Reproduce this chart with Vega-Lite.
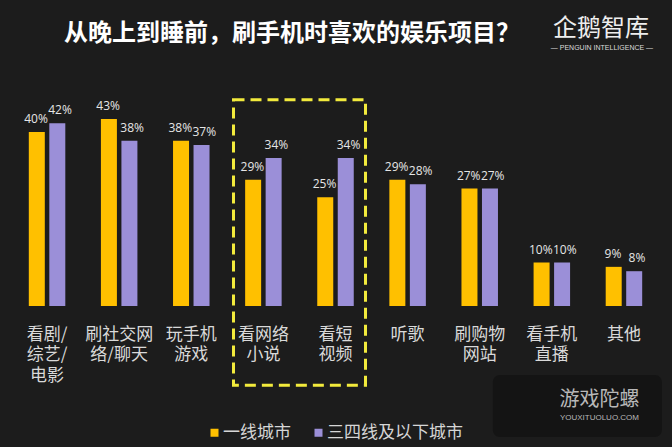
{
  "$schema": "https://vega.github.io/schema/vega-lite/v6.json",
  "width": 649,
  "height": 217.5,
  "autosize": {"type": "none"},
  "padding": {"left": 11, "top": 88.5, "right": 12, "bottom": 141},
  "background": "#1c1c1c",
  "config": {
    "view": {"stroke": null},
    "font": "Noto Sans CJK SC",
    "axisX": {
      "domain": false,
      "ticks": false,
      "labelAngle": 0,
      "labelColor": "#d9d9d9",
      "labelFontSize": 17,
      "labelLineHeight": 20.5,
      "labelPadding": 20,
      "labelOverlap": false,
      "labelFont": "Noto Sans CJK SC"
    }
  },
  "title": {
    "text": "从晚上到睡前，刷手机时喜欢的娱乐项目？",
    "anchor": "start",
    "dx": 53,
    "fontSize": 24,
    "fontWeight": "bold",
    "color": "#ffffff",
    "font": "Noto Sans CJK SC",
    "baseline": "alphabetic",
    "offset": -48
  },
  "data": {
    "values": [
      {"item": "看剧/\n综艺/\n电影", "city": "一线城市", "share": 0.40},
      {"item": "看剧/\n综艺/\n电影", "city": "三四线及以下城市", "share": 0.42},
      {"item": "刷社交网\n络/聊天", "city": "一线城市", "share": 0.43},
      {"item": "刷社交网\n络/聊天", "city": "三四线及以下城市", "share": 0.38},
      {"item": "玩手机\n游戏", "city": "一线城市", "share": 0.38},
      {"item": "玩手机\n游戏", "city": "三四线及以下城市", "share": 0.37},
      {"item": "看网络\n小说", "city": "一线城市", "share": 0.29},
      {"item": "看网络\n小说", "city": "三四线及以下城市", "share": 0.34},
      {"item": "看短\n视频", "city": "一线城市", "share": 0.25},
      {"item": "看短\n视频", "city": "三四线及以下城市", "share": 0.34},
      {"item": "听歌", "city": "一线城市", "share": 0.29},
      {"item": "听歌", "city": "三四线及以下城市", "share": 0.28},
      {"item": "刷购物\n网站", "city": "一线城市", "share": 0.27},
      {"item": "刷购物\n网站", "city": "三四线及以下城市", "share": 0.27},
      {"item": "看手机\n直播", "city": "一线城市", "share": 0.10},
      {"item": "看手机\n直播", "city": "三四线及以下城市", "share": 0.10},
      {"item": "其他", "city": "一线城市", "share": 0.09},
      {"item": "其他", "city": "三四线及以下城市", "share": 0.08}
    ]
  },
  "layer": [
    {
      "data": {"values": [{"item": "看手机\n直播", "box": "watermark"}]},
      "mark": {"type": "bar", "width": 169, "xOffset": 25.5, "fill": "#141414", "cornerRadius": 7},
      "encoding": {
        "x": {"field": "item", "type": "nominal", "sort": null, "axis": {"title": null, "labelExpr": "split(datum.label, '\\n')"}},
        "y": {"datum": -0.1586, "type": "quantitative", "axis": null},
        "y2": {"datum": -0.3011}
      }
    },
    {
      "transform": [{"filter": "datum.city === '一线城市'"}],
      "mark": {"type": "bar", "width": 16, "xOffset": -10.25},
      "encoding": {
        "x": {
          "field": "item",
          "type": "nominal",
          "sort": null,
          "scale": {
            "domain": ["看剧/\n综艺/\n电影", "刷社交网\n络/聊天", "玩手机\n游戏", "看网络\n小说", "看短\n视频", "听歌", "刷购物\n网站", "看手机\n直播", "其他"],
            "paddingInner": 0.487,
            "paddingOuter": 0.2435
          },
          "axis": {"title": null, "labelExpr": "split(datum.label, '\\n')"}
        },
        "y": {"field": "share", "type": "quantitative", "scale": {"domain": [0, 0.5], "nice": false}, "axis": null},
        "color": {
          "field": "city",
          "type": "nominal",
          "scale": {"domain": ["一线城市", "三四线及以下城市"], "range": ["#ffc000", "#9b8fd8"]},
          "legend": {
            "title": null,
            "orient": "none",
            "direction": "horizontal",
            "legendX": 195,
            "legendY": 335.5,
            "symbolType": "square",
            "symbolSize": 64,
            "symbolStrokeWidth": 0,
            "labelFontSize": 17,
            "labelColor": "#d6d6d6",
            "labelFont": "Noto Sans CJK SC",
            "labelOffset": 0,
            "columnPadding": 19,
            "padding": 0
          }
        }
      }
    },
    {
      "transform": [{"filter": "datum.city === '三四线及以下城市'"}],
      "mark": {"type": "bar", "width": 16, "xOffset": 10.25},
      "encoding": {
        "x": {"field": "item", "type": "nominal", "sort": null, "axis": {"title": null, "labelExpr": "split(datum.label, '\\n')"}},
        "y": {"field": "share", "type": "quantitative", "axis": null},
        "color": {"field": "city", "type": "nominal"}
      }
    },
    {
      "transform": [{"filter": "datum.city === '一线城市'"}],
      "mark": {"type": "text", "dy": -9, "xOffset": -11, "baseline": "alphabetic", "fontSize": 12, "font": "Open Sans", "color": "#e6e6e6"},
      "encoding": {
        "x": {"field": "item", "type": "nominal", "sort": null, "axis": {"title": null, "labelExpr": "split(datum.label, '\\n')"}},
        "y": {"field": "share", "type": "quantitative", "axis": null},
        "text": {"field": "share", "type": "quantitative", "format": ".0%"}
      }
    },
    {
      "transform": [{"filter": "datum.city === '三四线及以下城市'"}],
      "mark": {"type": "text", "dy": -9, "xOffset": 13, "baseline": "alphabetic", "fontSize": 12, "font": "Open Sans", "color": "#e6e6e6"},
      "encoding": {
        "x": {"field": "item", "type": "nominal", "sort": null, "axis": {"title": null, "labelExpr": "split(datum.label, '\\n')"}},
        "y": {"field": "share", "type": "quantitative", "axis": null},
        "text": {"field": "share", "type": "quantitative", "format": ".0%"}
      }
    },
    {
      "data": {"values": [{"item": "看短\n视频", "box": "highlight"}]},
      "mark": {"type": "bar", "width": 132, "xOffset": -36, "fill": "transparent", "stroke": "#f2ea3c", "strokeWidth": 3, "strokeDash": [11, 6]},
      "encoding": {
        "x": {"field": "item", "type": "nominal", "sort": null, "axis": {"title": null, "labelExpr": "split(datum.label, '\\n')"}},
        "y": {"datum": 0.474, "type": "quantitative", "axis": null},
        "y2": {"datum": -0.182}
      }
    },
    {
      "data": {"values": [{"item": "其他", "label": "企鹅智库"}]},
      "mark": {"type": "text", "fontSize": 24, "color": "#eeeeee", "baseline": "alphabetic", "xOffset": -23, "font": "Noto Sans CJK SC"},
      "encoding": {
        "x": {"field": "item", "type": "nominal", "sort": null, "axis": {"title": null, "labelExpr": "split(datum.label, '\\n')"}},
        "y": {"datum": 0.6207, "type": "quantitative", "axis": null},
        "text": {"field": "label", "type": "nominal"}
      }
    },
    {
      "data": {"values": [{"item": "其他", "label": "— PENGUIN  INTELLIGENCE —"}]},
      "mark": {"type": "text", "fontSize": 7, "color": "#dddddd", "baseline": "alphabetic", "xOffset": -22, "font": "Liberation Sans"},
      "encoding": {
        "x": {"field": "item", "type": "nominal", "sort": null, "axis": {"title": null, "labelExpr": "split(datum.label, '\\n')"}},
        "y": {"datum": 0.5874, "type": "quantitative", "axis": null},
        "text": {"field": "label", "type": "nominal"}
      }
    },
    {
      "data": {"values": [{"item": "其他", "label": "游戏陀螺"}]},
      "mark": {"type": "text", "fontSize": 20, "color": "#b8b8b8", "baseline": "alphabetic", "xOffset": -24.5, "font": "Noto Sans CJK SC"},
      "encoding": {
        "x": {"field": "item", "type": "nominal", "sort": null, "axis": {"title": null, "labelExpr": "split(datum.label, '\\n')"}},
        "y": {"datum": -0.2299, "type": "quantitative", "axis": null},
        "text": {"field": "label", "type": "nominal"}
      }
    },
    {
      "data": {"values": [{"item": "其他", "label": "YOUXITUOLUO.COM"}]},
      "mark": {"type": "text", "fontSize": 8, "color": "#b8b8b8", "baseline": "alphabetic", "xOffset": -24.5, "font": "Liberation Sans"},
      "encoding": {
        "x": {"field": "item", "type": "nominal", "sort": null, "axis": {"title": null, "labelExpr": "split(datum.label, '\\n')"}},
        "y": {"datum": -0.262, "type": "quantitative", "axis": null},
        "text": {"field": "label", "type": "nominal"}
      }
    }
  ]
}
